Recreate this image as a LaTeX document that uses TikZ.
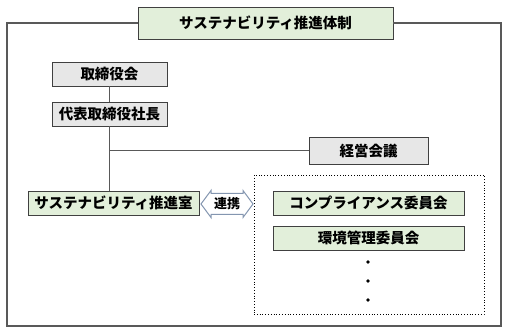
\documentclass[tikz,border=0pt]{standalone}
\usepackage{fontspec}
\setmainfont{Noto Sans CJK JP}
\definecolor{boxgreen}{HTML}{E2EFDA}
\definecolor{boxgrey}{HTML}{E7E7E7}
\definecolor{lineg}{HTML}{595959}
\definecolor{arrowc}{HTML}{8496B0}
\begin{document}
\begin{tikzpicture}[x=1pt,y=-1pt,
  bx/.style={draw=black!75,line width=0.8pt,inner sep=0pt,font=\fontsize{14.5}{15}\selectfont\bfseries,minimum height=24pt},
  gbox/.style={bx,fill=boxgreen},
  ybox/.style={bx,fill=boxgrey},
  conn/.style={draw=lineg,line width=1.1pt}]
\useasboundingbox (0,0) rectangle (507,334);
\node[gbox,minimum width=255pt,minimum height=32pt] (title) at (265.5,23) {サステナビリティ推進体制};
\draw[conn,line width=1.4pt] (title.west) -- (7,23) -- (7,326) -- (501,326) -- (501,23) -- (title.east);
\node[ybox,minimum width=115pt] (tori) at (109.5,74) {取締役会};
\node[ybox,minimum width=115pt] (shacho) at (109.5,114) {代表取締役社長};
\node[ybox,minimum width=119pt,minimum height=27pt] (keiei) at (368.5,150.5) {経営会議};
\node[gbox,minimum width=171pt] (suishin) at (113.5,203) {サステナビリティ推進室};
\node[draw,dotted,line width=0.8pt,minimum width=230pt,minimum height=139pt,inner sep=0pt] (group) at (369,244.5) {};
\node[gbox,minimum width=191pt] (comp) at (368.5,203) {コンプライアンス委員会};
\node[gbox,minimum width=191pt] (kankyo) at (368.5,238) {環境管理委員会};
\draw[conn] (tori.south) -- (shacho.north);
\draw[conn] (shacho.south) -- (shacho.south |- suishin.north);
\draw[conn] (shacho.south |- keiei.west) -- (keiei.west);
\coordinate (rc) at (227,204);
\draw[arrowc,line width=1pt,fill=white,line join=miter]
  ([xshift=-26pt]rc) -- ([xshift=-16pt,yshift=-13.5pt]rc) -- ([xshift=-16pt,yshift=-10.5pt]rc)
  -- ([xshift=16pt,yshift=-10.5pt]rc) -- ([xshift=16pt,yshift=-13.5pt]rc) -- ([xshift=26pt]rc)
  -- ([xshift=16pt,yshift=13.5pt]rc) -- ([xshift=16pt,yshift=10.5pt]rc)
  -- ([xshift=-16pt,yshift=10.5pt]rc) -- ([xshift=-16pt,yshift=13.5pt]rc) -- cycle;
\node[inner sep=0pt,font=\fontsize{13}{13}\selectfont\bfseries] (renkei) at (rc) {連携};
\foreach \y [count=\i] in {262,281,300} \fill (368,\y) circle (1.8pt) coordinate (dot\i);
\end{tikzpicture}
\end{document}
